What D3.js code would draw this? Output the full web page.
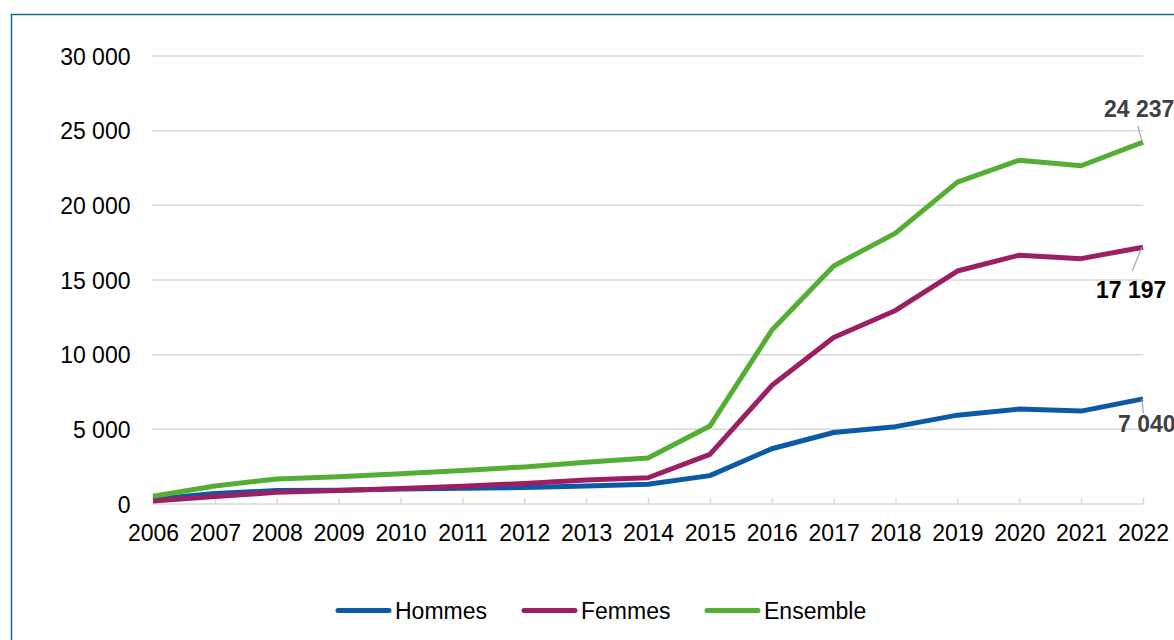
<!DOCTYPE html>
<html>
<head>
<meta charset="utf-8">
<script src="https://cdn.jsdelivr.net/npm/d3@7"></script>
<style>
  html, body { margin: 0; padding: 0; background: #fff; overflow: hidden; }
  svg { display: block; font-family: "Liberation Sans", Arial, sans-serif; }
</style>
</head>
<body>
<svg id="chart" width="1174" height="640"></svg>
<script>
const years = ["2006","2007","2008","2009","2010","2011","2012","2013","2014","2015","2016","2017","2018","2019","2020","2021","2022"];
const hommes   = [320, 700, 900, 920, 1000, 1060, 1100, 1200, 1320, 1900, 3700, 4790, 5180, 5950, 6360, 6220, 7040];
const femmes   = [200, 500, 780, 910, 1030, 1190, 1380, 1600, 1760, 3320, 7930, 11150, 12960, 15600, 16660, 16430, 17197];
const ensemble = [520, 1200, 1680, 1830, 2030, 2250, 2480, 2800, 3080, 5220, 11630, 15940, 18140, 21550, 23020, 22650, 24237];
const yTicks = [0, 5000, 10000, 15000, 20000, 25000, 30000];
const seriesNames = ["Hommes", "Femmes", "Ensemble"];

const colors = { Hommes: "#0b5aa6", Femmes: "#9c1f63", Ensemble: "#53ae33" };
const series = [
  { name: "Hommes", values: hommes, label: { dx: -25, dy: 33, lx1: -1, ly1: 0, lx2: 0.3, ly2: 14.5, fill: "#404040" } },
  { name: "Femmes", values: femmes, label: { dx: -47, dy: 51, lx1: -1, ly1: 0, lx2: -10.7, ly2: 23.5, fill: "#000000" } },
  { name: "Ensemble", values: ensemble, label: { dx: -39, dy: -25.5, lx1: -1, ly1: -0.4, lx2: -5.3, ly2: -16.4, fill: "#404040" } }
];

const FS = 23;
const FF = "'Liberation Sans', Arial, sans-serif";
const svg = d3.select("#chart");
const fmt = d3.formatLocale({ decimal: ",", thousands: " ", grouping: [3], currency: ["", " €"] }).format(",d");

// outer frame
svg.append("rect").attr("x", 11.5).attr("y", 14.5).attr("width", 1200).attr("height", 700)
  .attr("fill", "#fff").attr("stroke", "#1b6a86").attr("stroke-width", 1.5);

const x = d3.scalePoint().domain(years).range([153, 1143]);
const y = d3.scaleLinear().domain([0, 30000]).range([504, 56]);

// gridlines
svg.append("g").selectAll("line").data(yTicks.filter(d => d > 0)).join("line")
  .attr("x1", 152).attr("x2", 1143)
  .attr("y1", d => y(d)).attr("y2", d => y(d))
  .attr("stroke", "#d9d9d9").attr("stroke-width", 1.5);

// y axis labels
const yAxis = svg.append("g").attr("transform", "translate(130.5,0)")
  .call(d3.axisLeft(y).tickValues(yTicks).tickFormat(fmt).tickSize(0).tickPadding(0));
yAxis.attr("font-family", FF).attr("font-size", FS);
yAxis.select(".domain").remove();
yAxis.selectAll("text").attr("fill", "#000").attr("dy", "0.36em");

// x axis
const xAxis = svg.append("g").attr("transform", "translate(0,504)")
  .call(d3.axisBottom(x).tickSize(-6).tickPadding(20));
xAxis.attr("font-family", FF).attr("font-size", FS);
xAxis.select(".domain").attr("d", "M152,0H1143").attr("stroke", "#d9d9d9").attr("stroke-width", 1.5);
xAxis.selectAll(".tick line").attr("stroke", "#d9d9d9").attr("stroke-width", 1.5);
xAxis.selectAll("text").attr("fill", "#000").attr("y", 20).attr("dy", "0.72em");

// lines
const line = d3.line().x((d, i) => x(years[i])).y(d => y(d));
svg.append("g").selectAll("path").data(series).join("path")
  .attr("d", d => line(d.values))
  .attr("fill", "none")
  .attr("stroke", d => colors[d.name])
  .attr("stroke-width", 5)
  .attr("stroke-linejoin", "round");

// end labels
const last = years.length - 1;
series.forEach(s => {
  const px = x(years[last]), py = y(s.values[last]);
  svg.append("line")
    .attr("x1", px + s.label.lx1).attr("y1", py + s.label.ly1)
    .attr("x2", px + s.label.lx2).attr("y2", py + s.label.ly2)
    .attr("stroke", "#a6a6a6").attr("stroke-width", 1.2);
  svg.append("text")
    .attr("x", px + s.label.dx).attr("y", py + s.label.dy)
    .attr("font-family", FF)
    .attr("font-size", FS).attr("font-weight", "bold").attr("fill", s.label.fill)
    .text(fmt(s.values[last]));
});

// legend
const legendX = [336, 522, 705];
const lg = svg.append("g").selectAll("g").data(seriesNames).join("g")
  .attr("transform", (d, i) => `translate(${legendX[i]},610.5)`);
lg.append("line").attr("x1", 2).attr("x2", 53).attr("y1", 0).attr("y2", 0)
  .attr("stroke", d => colors[d]).attr("stroke-width", 5).attr("stroke-linecap", "round");
lg.append("text").attr("x", 59).attr("y", 0).attr("dy", "0.36em")
  .attr("font-family", FF)
  .attr("font-size", FS).attr("fill", "#000").text(d => d);
</script>
</body>
</html>
